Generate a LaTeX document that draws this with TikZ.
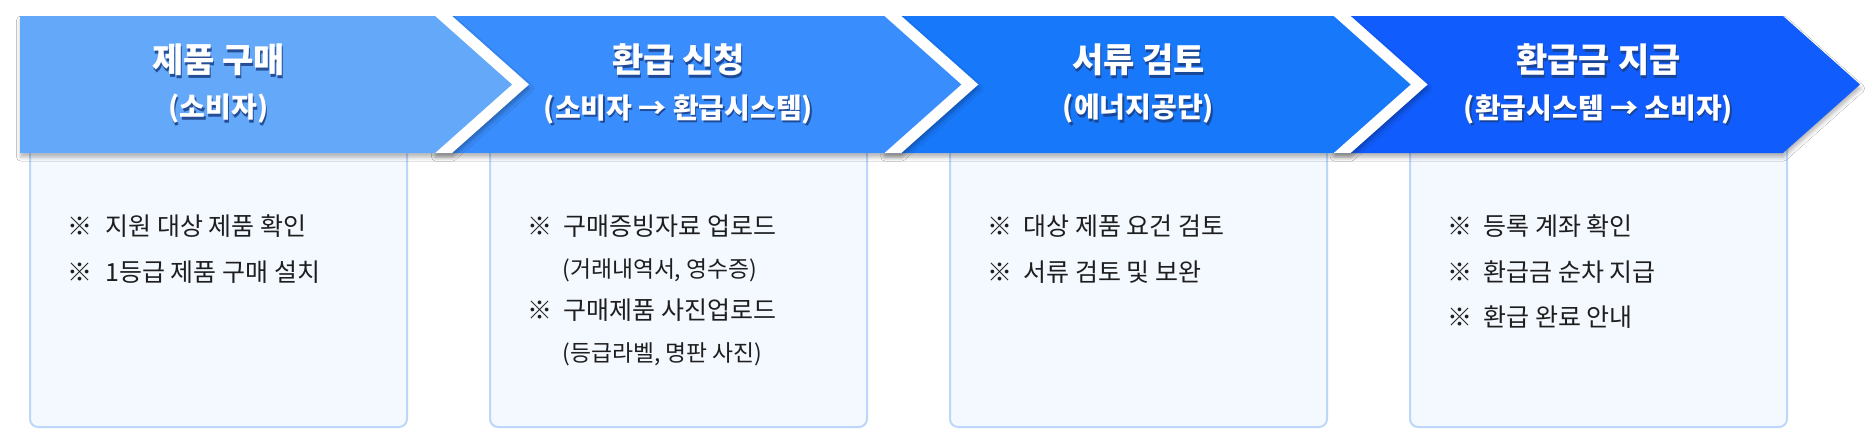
\documentclass[tikz,border=0pt]{standalone}
\usepackage{fontspec}
\setmainfont{Noto Sans CJK KR}
\usetikzlibrary{shadows.blur}
\definecolor{aone}{HTML}{64A8FA}
\definecolor{atwo}{HTML}{3A8DFD}
\definecolor{athree}{HTML}{1878FA}
\definecolor{afour}{HTML}{115CFC}
\definecolor{boxline}{HTML}{BCD7FA}
\definecolor{boxfill}{HTML}{F4F9FF}
\definecolor{ttlshadow}{HTML}{1A3F86}
\definecolor{bodytext}{HTML}{1E1E1E}
\begin{document}
\begin{tikzpicture}[x=0.5pt,y=-0.5pt,
  infobox/.style={draw=boxline,fill=boxfill,line width=1pt,rounded corners=4pt},
  arrshadow/.style={blur shadow={shadow blur radius=2pt,shadow xshift=0.3pt,shadow yshift=-2pt,shadow opacity=30}},
  ttl/.style={font=\bfseries\fontsize{17}{20}\selectfont,text=white,inner sep=0pt},
  ttlsh/.style={font=\bfseries\fontsize{17}{20}\selectfont,text=ttlshadow,opacity=0.85,inner sep=0pt,xshift=0.6pt,yshift=-1.2pt},
  sub/.style={font=\bfseries\fontsize{14}{17}\selectfont,text=white,inner sep=0pt},
  subsh/.style={font=\bfseries\fontsize{14}{17}\selectfont,text=ttlshadow,opacity=0.85,inner sep=0pt,xshift=0.6pt,yshift=-1.2pt},
  refmark/.style={font=\fontsize{12.5}{15}\selectfont,text=bodytext,inner sep=0pt,anchor=west},
  bodyline/.style={font=\fontsize{12.5}{15}\selectfont,text=bodytext,inner sep=0pt,anchor=west},
  smallline/.style={font=\fontsize{11.4}{14}\selectfont,text=bodytext,inner sep=0pt,anchor=west}
]
\useasboundingbox[fill=white] (0,0) rectangle (1874,446);

% info boxes
\draw[infobox] (30,140) rectangle (407,427);
\draw[infobox] (490,140) rectangle (867,427);
\draw[infobox] (950,140) rectangle (1327,427);
\draw[infobox] (1410,140) rectangle (1787,427);

% arrow 4
\fill[afour,arrshadow] (1333.6,16) -- (1783,16) -- (1860,84.5) -- (1783,153) -- (1333.6,153) -- cycle;
% arrow 3
\fill[white,arrshadow] (884.3,16) -- (1350.6,16) -- (1427.6,84.5) -- (1350.6,153) -- (884.3,153) -- cycle;
\fill[athree] (884.3,16) -- (1333.6,16) -- (1410.6,84.5) -- (1333.6,153) -- (884.3,153) -- cycle;
% arrow 2
\fill[white,arrshadow] (435,16) -- (901.3,16) -- (978.3,84.5) -- (901.3,153) -- (435,153) -- cycle;
\fill[atwo] (435,16) -- (884.3,16) -- (961.3,84.5) -- (884.3,153) -- (435,153) -- cycle;
% arrow 1
\fill[white,arrshadow] (20,16) -- (452,16) -- (529,84.5) -- (452,153) -- (20,153) -- cycle;
\fill[aone] (20,16) -- (435,16) -- (512,84.5) -- (435,153) -- (20,153) -- cycle;

% titles
\node[ttlsh] (t1s) at (218.5,60) {제품 구매};
\node[ttl] (t1) at (218.5,60) {제품 구매};
\node[subsh] (s1s) at (218.5,109) {(소비자)};
\node[sub] (s1) at (218.5,109) {(소비자)};

\node[ttlsh] (t2s) at (678.5,60) {환급 신청};
\node[ttl] (t2) at (678.5,60) {환급 신청};
\node[subsh] (s2s) at (678.5,109) {(소비자 → 환급시스템)};
\node[sub] (s2) at (678.5,109) {(소비자 → 환급시스템)};

\node[ttlsh] (t3s) at (1138.5,60) {서류 검토};
\node[ttl] (t3) at (1138.5,60) {서류 검토};
\node[subsh] (s3s) at (1138.5,109) {(에너지공단)};
\node[sub] (s3) at (1138.5,109) {(에너지공단)};

\node[ttlsh] (t4s) at (1598.5,60) {환급금 지급};
\node[ttl] (t4) at (1598.5,60) {환급금 지급};
\node[subsh] (s4s) at (1598.5,109) {(환급시스템 → 소비자)};
\node[sub] (s4) at (1598.5,109) {(환급시스템 → 소비자)};

% box 1
\node[refmark] (m11) at (67,226) {※};
\node[bodyline] (b11) at (105,226) {지원 대상 제품 확인};
\node[refmark] (m12) at (67,272) {※};
\node[bodyline] (b12) at (105,272) {1등급 제품 구매 설치};

% box 2
\node[refmark] (m21) at (527,226) {※};
\node[bodyline] (b21) at (563,226) {구매증빙자료 업로드};
\node[smallline] (b22) at (562,270) {(거래내역서, 영수증)};
\node[refmark] (m23) at (527,310) {※};
\node[bodyline] (b23) at (563,310) {구매제품 사진업로드};
\node[smallline] (b24) at (562,354) {(등급라벨, 명판 사진)};

% box 3
\node[refmark] (m31) at (987,226) {※};
\node[bodyline] (b31) at (1023,226) {대상 제품 요건 검토};
\node[refmark] (m32) at (987,272) {※};
\node[bodyline] (b32) at (1023,272) {서류 검토 및 보완};

% box 4
\node[refmark] (m41) at (1447,226) {※};
\node[bodyline] (b41) at (1483,226) {등록 계좌 확인};
\node[refmark] (m42) at (1447,272) {※};
\node[bodyline] (b42) at (1483,272) {환급금 순차 지급};
\node[refmark] (m43) at (1447,317) {※};
\node[bodyline] (b43) at (1483,317) {환급 완료 안내};
\end{tikzpicture}
\end{document}
